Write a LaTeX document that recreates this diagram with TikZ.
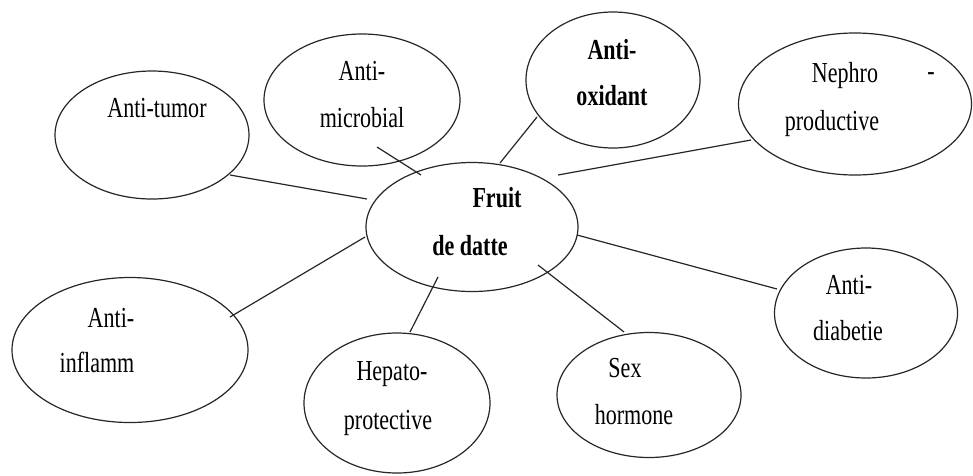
\documentclass[tikz,border=0pt]{standalone}
\usepackage{fontspec}
\setmainfont{Liberation Serif}[FakeStretch=0.76]
\usetikzlibrary{shapes.geometric,calc}
\begin{document}
\begin{tikzpicture}[x=1pt,y=-1pt,
  bubble/.style={draw=black!85,line width=1.2pt,ellipse,inner sep=0pt,outer sep=0pt},
  lbl/.style={inner sep=0pt,text height=0.7em,text depth=0.2em,font=\fontsize{29}{32}\selectfont},
  blbl/.style={lbl,font=\fontsize{29}{32}\selectfont\bfseries},
  link/.style={draw=black!85,line width=1.2pt}]
\useasboundingbox (0,0) rectangle (973,475);
% ellipses
\node[bubble,minimum width=212pt,minimum height=129pt] (C) at (472,227) {};
\node[bubble,minimum width=194pt,minimum height=128pt] (T) at (152,135) {};
\node[bubble,minimum width=196pt,minimum height=132pt] (M) at (362,100) {};
\node[bubble,minimum width=174pt,minimum height=136pt] (O) at (613,80) {};
\node[bubble,minimum width=233pt,minimum height=142pt] (N) at (855,104) {};
\node[bubble,minimum width=236pt,minimum height=145pt] (I) at (130,350) {};
\node[bubble,minimum width=186pt,minimum height=140pt] (H) at (397,403) {};
\node[bubble,minimum width=184pt,minimum height=125pt] (S) at (649,395) {};
\node[bubble,minimum width=183pt,minimum height=130pt] (D) at (866,313) {};
% texts
\node[blbl] (c1) at (497,205) {Fruit};
\node[blbl] (c2) at (470,253) {de datte};
\node[lbl] (t1) at (157,115) {Anti-tumor};
\node[lbl] (m1) at (362,78) {Anti-};
\node[lbl] (m2) at (362,125) {microbial};
\node[blbl] (o1) at (612,57) {Anti-};
\node[blbl] (o2) at (612,103) {oxidant};
\node[lbl] (n1) at (845,80) {Nephro};
\node[lbl] (n2) at (931,78) {-};
\node[lbl] (n3) at (832,128) {productive};
\node[lbl] (i1) at (111,325) {Anti-};
\node[lbl] (i2) at (97,370) {inflamm};
\node[lbl] (h1) at (392,378) {Hepato-};
\node[lbl] (h2) at (388,427) {protective};
\node[lbl] (s1) at (625,375) {Sex};
\node[lbl] (s2) at (634,422) {hormone};
\node[lbl] (d1) at (849,292) {Anti-};
\node[lbl] (d2) at (848,338) {diabetie};
% connectors
\draw[link] ($(T)+(78,40)$) -- ($(C)+(-105,-28)$);
\draw[link] ($(M)+(15,47)$) -- ($(C)+(-51,-52)$);
\draw[link] ($(O)+(-76,37)$) -- ($(C)+(28,-64)$);
\draw[link] ($(N)+(-104,36)$) -- ($(C)+(86,-52)$);
\draw[link] ($(I)+(100,-33)$) -- ($(C)+(-107,10)$);
\draw[link] ($(H)+(13,-71)$) -- ($(C)+(-34,50)$);
\draw[link] ($(S)+(-25,-63)$) -- ($(C)+(66,38)$);
\draw[link] ($(D)+(-89,-24)$) -- ($(C)+(105,8)$);
\end{tikzpicture}
\end{document}
